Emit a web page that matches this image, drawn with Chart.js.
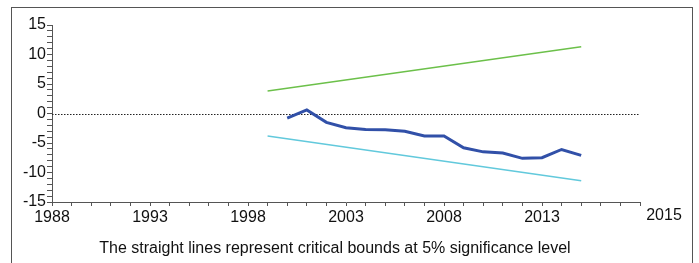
<!DOCTYPE html>
<html>
<head>
<meta charset="utf-8">
<script src="https://cdn.jsdelivr.net/npm/chart.js@4/dist/chart.umd.min.js"></script>
<style>
  html, body { margin: 0; padding: 0; background: #fff; }
  #wrap { position: relative; width: 699px; height: 263px; overflow: hidden; }
  #frame { position: absolute; left: 11px; top: 7px; width: 680px; height: 300px; border: 1px solid #555; }
  canvas { position: absolute; left: 0; top: 0; }
</style>
</head>
<body>
<div id="wrap">
  <div id="frame"></div>
  <canvas id="cusum" width="699" height="263"></canvas>
</div>
<script>
(function () {
    'use strict';

    // years and CUSUM values
    var years = [2000, 2001, 2002, 2003, 2004, 2005, 2006, 2007, 2008, 2009, 2010, 2011, 2012, 2013, 2014, 2015];
    var cusum = [-0.8, 0.6, -1.5, -2.4, -2.7, -2.75, -3.0, -3.8, -3.8, -5.8, -6.5, -6.7, -7.6, -7.5, -6.1, -7.1];

    // critical bounds (straight lines) at 5% level
    var boundYears = [1999, 2015];
    var upperBound = [3.8, 11.3];
    var lowerBound = [-3.8, -11.4];

    var xLabelYears = [1988, 1993, 1998, 2003, 2008, 2013];
    var yLabelValues = [-15, -10, -5, 0, 5, 10, 15];
    var lastLabel = '2015';
    var footText = 'The straight lines represent critical bounds at 5% significance level';

    function toPoints(xs, ys) {
        return xs.map(function (x, i) { return { x: x, y: ys[i] }; });
    }

    //DRAW THE ZERO LINE, THE ODD LAST YEAR LABEL AND THE NOTE UNDER THE AXIS
    var extras = {
        id: 'extras',
        beforeDatasetsDraw: function (chart) {
            var ctx = chart.ctx;
            var area = chart.chartArea;
            var y0 = chart.scales.y.getPixelForValue(0);
            ctx.save();
            ctx.strokeStyle = '#222';
            ctx.lineWidth = 1;
            ctx.setLineDash([1.5, 1.5]);
            ctx.beginPath();
            ctx.moveTo(area.left, Math.round(y0) + 0.5);
            ctx.lineTo(area.right, Math.round(y0) + 0.5);
            ctx.stroke();
            ctx.restore();
        },
        afterDraw: function (chart) {
            var ctx = chart.ctx;
            var area = chart.chartArea;
            ctx.save();
            ctx.fillStyle = '#111';
            ctx.textAlign = 'center';
            ctx.textBaseline = 'middle';
            ctx.font = '16px "Liberation Sans", Arial, sans-serif';
            ctx.fillText(lastLabel, area.right + 24, area.bottom + 14);
            ctx.fillText(footText, 335, 249);
            ctx.restore();
        }
    };

    new Chart(document.getElementById('cusum'), {
        type: 'line',
        data: {
            datasets: [
                {
                    label: 'Upper bound',
                    data: toPoints(boundYears, upperBound),
                    borderColor: '#6cc04a',
                    borderWidth: 1.5,
                    pointRadius: 0,
                    tension: 0
                },
                {
                    label: 'Lower bound',
                    data: toPoints(boundYears, lowerBound),
                    borderColor: '#62c9dc',
                    borderWidth: 1.5,
                    pointRadius: 0,
                    tension: 0
                },
                {
                    label: 'CUSUM',
                    data: toPoints(years, cusum),
                    borderColor: '#3150a8',
                    borderWidth: 3,
                    pointRadius: 0,
                    tension: 0
                }
            ]
        },
        options: {
            responsive: false,
            animation: false,
            layout: { padding: { left: 0, top: 25, right: 59, bottom: 0 } },
            plugins: {
                legend: { display: false },
                tooltip: { enabled: false }
            },
            scales: {
                x: {
                    type: 'linear',
                    min: 1988,
                    max: 2018,
                    afterFit: function (scale) { scale.height = 61; },
                    afterBuildTicks: function (scale) {
                        var t = [];
                        for (var v = 1988; v <= 2018; v++) { t.push({ value: v }); }
                        scale.ticks = t;
                    },
                    border: { display: true, color: '#555', width: 1 },
                    grid: { display: true, drawOnChartArea: false, drawTicks: true, tickLength: 4, color: '#555' },
                    ticks: {
                        autoSkip: false,
                        maxRotation: 0,
                        padding: 2,
                        color: '#111',
                        font: { family: '"Liberation Sans", Arial, sans-serif', size: 16 },
                        callback: function (v) {
                            return xLabelYears.indexOf(v) >= 0 ? String(v) : '';
                        }
                    }
                },
                y: {
                    min: -15,
                    max: 15,
                    afterFit: function (scale) { scale.width = 52; },
                    afterBuildTicks: function (scale) {
                        var t = [];
                        for (var v = -15; v <= 15; v++) { t.push({ value: v }); }
                        scale.ticks = t;
                    },
                    border: { display: true, color: '#555', width: 1 },
                    grid: { display: true, drawOnChartArea: false, drawTicks: true, tickLength: 5, color: '#555' },
                    ticks: {
                        autoSkip: false,
                        padding: 1,
                        color: '#111',
                        font: { family: '"Liberation Sans", Arial, sans-serif', size: 16 },
                        callback: function (v) {
                            return yLabelValues.indexOf(v) >= 0 ? String(v) : '';
                        }
                    }
                }
            }
        },
        plugins: [extras]
    });
})();
</script>
</body>
</html>
